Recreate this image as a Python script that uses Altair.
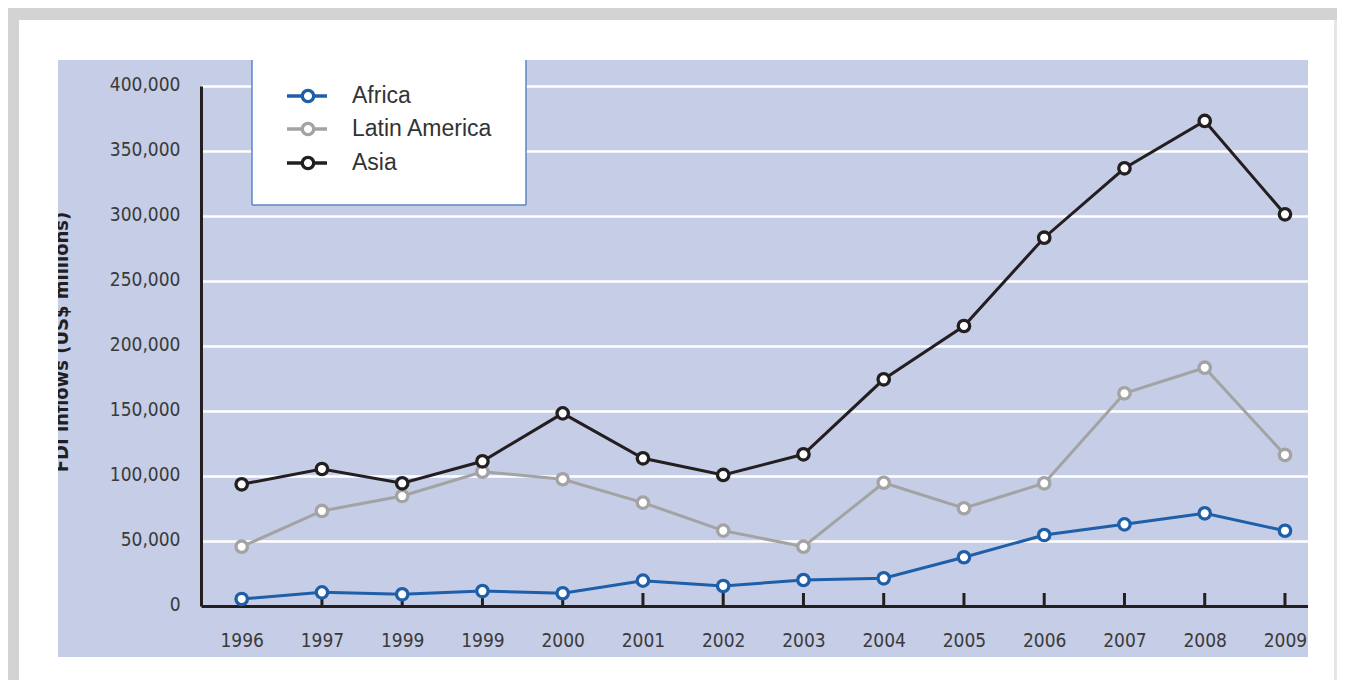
import altair as alt
import pandas as pd

# ---- data ----
year_labels = ["1996", "1997", "1999", "1999", "2000", "2001", "2002",
               "2003", "2004", "2005", "2006", "2007", "2008", "2009"]
series_names = ["Africa", "Latin America", "Asia"]
africa = [5400, 10500, 9000, 11500, 9800, 19500, 15400, 20000, 21300,
          37500, 54600, 62800, 71300, 57900]
latin_america = [45600, 73100, 84600, 103300, 97500, 79500, 58000, 45600,
                 94800, 75200, 94400, 163600, 183300, 116200]
asia = [93600, 105400, 94400, 111300, 148200, 113600, 100800, 116700,
        174400, 215400, 283300, 336700, 373100, 301300]
y_ticks = [0, 50000, 100000, 150000, 200000, 250000, 300000, 350000, 400000]
y_title = "FDI inflows (US$ millions)"

colors = {"Africa": "#1f5ea8", "Latin America": "#a3a3a3", "Asia": "#231f20"}
order = {"Africa": 0, "Latin America": 1, "Asia": 2}

rows = []
for name, vals in zip(series_names, [africa, latin_america, asia]):
    for i, v in enumerate(vals):
        rows.append({"series": name, "idx": i, "value": v, "ord": order[name]})
df = pd.DataFrame(rows)
ticks_df = pd.DataFrame({"idx": list(range(len(year_labels)))})
one = pd.DataFrame({"k": [0]})

W, H = 1107, 520
FONT = "DejaVu Sans Condensed, Liberation Sans Narrow, sans-serif"
DARK = "#231f20"
BLUE_BG = "#c6cde6"
LABEL_COLOR = "#3a3a3a"
PT_SIZE = 130
PT_STROKE = 3.3

label_expr = "[" + ",".join("'%s'" % s for s in year_labels) + "][datum.value]"

x_enc = alt.X("idx:Q", scale=alt.Scale(domain=[-0.507, 13.287], nice=False, zero=False),
              axis=alt.Axis(values=list(range(len(year_labels))), labelExpr=label_expr,
                            title=None, ticks=False, grid=False, domainColor=DARK,
                            domainWidth=3, labelPadding=25, labelFontSize=19,
                            labelFont=FONT, labelColor=LABEL_COLOR))
y_enc = alt.Y("value:Q", scale=alt.Scale(domain=[0, 400000], nice=False),
              axis=alt.Axis(values=y_ticks, format=",d", title=None, ticks=False,
                            grid=True, gridColor="white", gridWidth=2.5,
                            domainColor=DARK, domainWidth=3, labelPadding=21,
                            labelFontSize=19, labelFont=FONT, labelColor=LABEL_COLOR,
                            labelOffset=-2))

color_enc = alt.Color("series:N", scale=alt.Scale(domain=series_names,
                      range=[colors[s] for s in series_names]), legend=None)

tick_marks = alt.Chart(ticks_df).mark_rule(color=DARK, strokeWidth=3).encode(
    x=x_enc, y=alt.value(H), y2=alt.value(H - 13))

lines = alt.Chart(df).mark_line(strokeWidth=3).encode(
    x=x_enc, y=y_enc, color=color_enc, order="idx:Q", detail="series:N")

points = alt.Chart(df).mark_point(filled=False, fill="white", fillOpacity=1,
                                  size=PT_SIZE, strokeWidth=PT_STROKE, opacity=1).encode(
    x=x_enc, y=y_enc, color=color_enc, order="ord:Q")

title_text = alt.Chart(one).mark_text(
    angle=270, align="center", baseline="alphabetic", font=FONT, fontSize=20,
    fontWeight="bold", color=DARK, text=y_title).encode(
    x=alt.value(-133), y=alt.value(256))

def band(x1, x2, y1, y2, color):
    return alt.Chart(one).mark_rect(color=color).encode(
        x=alt.value(x1), x2=alt.value(x2), y=alt.value(y1), y2=alt.value(y2))

bands = [
    band(-193, 1136, -78, -26, "white"),   # top
    band(-193, -143, -78, 600, "white"),   # left
    band(-193, 1136, 571, 600, "white"),   # bottom
    band(1107, 1136, -78, 600, "white"),   # right
    band(-193, 1136, -78, -66, "#d3d3d3"),  # gray frame top
    band(-193, -182, -78, 600, "#d3d3d3"),  # gray frame left
    band(1133, 1136, -66, 600, "#e6e6e6"),  # gray frame right edge
]

legend_box = band(51, 325, -26, 119, "white")
BORDER = "#5b86c5"
legend_border = [
    alt.Chart(one).mark_rule(color=BORDER, strokeWidth=1.5).encode(
        x=alt.value(51), y=alt.value(-26), y2=alt.value(119)),
    alt.Chart(one).mark_rule(color=BORDER, strokeWidth=1.5).encode(
        x=alt.value(325), y=alt.value(-26), y2=alt.value(119)),
    alt.Chart(one).mark_rule(color=BORDER, strokeWidth=1.5).encode(
        x=alt.value(51), x2=alt.value(325), y=alt.value(119)),
]

legend_rows_y = [10, 43, 77]
legend_layers = []
for name, ly in zip(series_names, legend_rows_y):
    c = colors[name]
    legend_layers.append(alt.Chart(one).mark_rule(color=c, strokeWidth=3.3).encode(
        x=alt.value(86), x2=alt.value(126), y=alt.value(ly)))
    legend_layers.append(alt.Chart(one).mark_point(
        filled=False, fill="white", fillOpacity=1, color=c, size=PT_SIZE,
        strokeWidth=PT_STROKE, opacity=1).encode(x=alt.value(107), y=alt.value(ly)))
    legend_layers.append(alt.Chart(one).mark_text(
        align="left", baseline="middle", font="Liberation Sans, Arial, sans-serif",
        fontSize=23, color="#333333", text=name).encode(
        x=alt.value(151), y=alt.value(ly)))

chart = alt.layer(
    tick_marks, lines, points, title_text, *bands, legend_box, *legend_border,
    *legend_layers
).properties(
    width=W, height=H,
    background=BLUE_BG,
    padding={"left": 193, "top": 78, "right": 29, "bottom": 74},
    autosize=alt.AutoSizeParams(type="none"),
).configure_view(stroke=None)

chart.save("out.html", embed_options={"renderer": "svg", "actions": False})
